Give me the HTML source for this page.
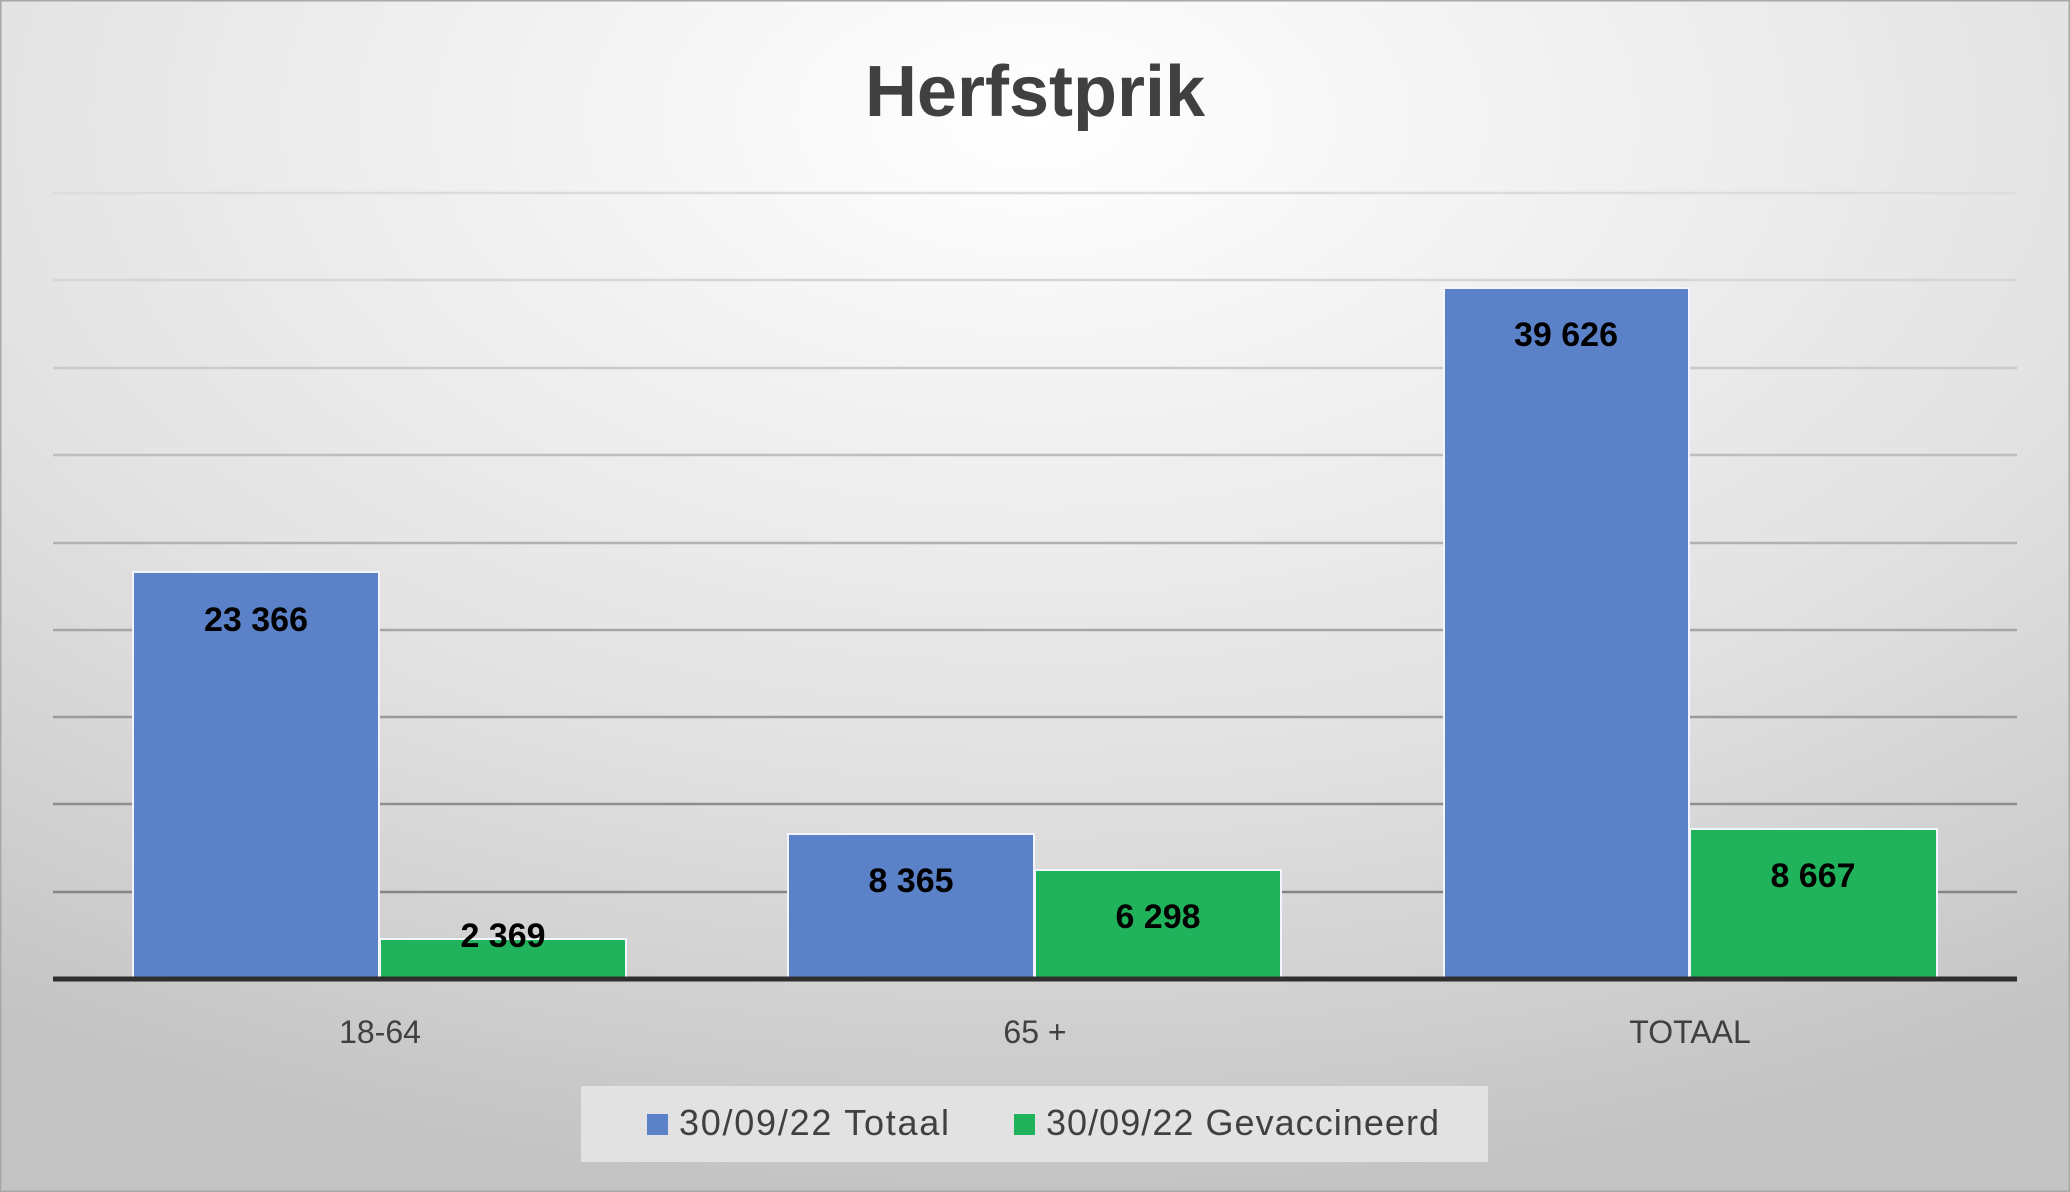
<!DOCTYPE html>
<html><head><meta charset="utf-8"><style>
html,body{margin:0;padding:0;}
body{width:2070px;height:1192px;overflow:hidden;}
svg{display:block;font-family:"Liberation Sans",sans-serif;}
</style></head><body>
<svg width="2070" height="1192" viewBox="0 0 2070 1192">
<defs>
<radialGradient id="bg" cx="50%" cy="10%" r="90%">
<stop offset="0" stop-color="#ffffff"/>
<stop offset="0.6" stop-color="#e2e2e2"/>
<stop offset="1" stop-color="#c4c4c4"/>
</radialGradient>
</defs>
<rect x="0" y="0" width="2070" height="1192" fill="url(#bg)" stroke="#a8a8a8" stroke-width="3"/>
<text x="1035" y="116" text-anchor="middle" font-size="72" font-weight="bold" fill="#404040">Herfstprik</text>
<g stroke-width="2.5">
<line x1="53" x2="2017" y1="193" y2="193" stroke="#dcdcdc"/>
<line x1="53" x2="2017" y1="280" y2="280" stroke="#d6d6d6"/>
<line x1="53" x2="2017" y1="368" y2="368" stroke="#cacaca"/>
<line x1="53" x2="2017" y1="455" y2="455" stroke="#bebebe"/>
<line x1="53" x2="2017" y1="543" y2="543" stroke="#b2b2b2"/>
<line x1="53" x2="2017" y1="630" y2="630" stroke="#a6a6a6"/>
<line x1="53" x2="2017" y1="717" y2="717" stroke="#9a9a9a"/>
<line x1="53" x2="2017" y1="804" y2="804" stroke="#8e8e8e"/>
<line x1="53" x2="2017" y1="892" y2="892" stroke="#858585"/>
</g>
<g stroke="#f2f5fb" stroke-width="2">
<rect x="133" y="572" width="246" height="406" fill="#5b82c9"/>
<rect x="380" y="939" width="246" height="39" fill="#21b35c"/>
<rect x="788" y="834" width="246" height="144" fill="#5b82c9"/>
<rect x="1035" y="870" width="246" height="108" fill="#21b35c"/>
<rect x="1444" y="288" width="245" height="690" fill="#5b82c9"/>
<rect x="1690" y="829" width="247" height="149" fill="#21b35c"/>
</g>
<line x1="53" x2="2017" y1="979" y2="979" stroke="#2f2f2f" stroke-width="5"/>
<g font-size="34" font-weight="bold" fill="#000" text-anchor="middle">
<text x="256" y="631">23 366</text>
<text x="503" y="947">2 369</text>
<text x="911" y="892">8 365</text>
<text x="1158" y="928">6 298</text>
<text x="1566" y="346">39 626</text>
<text x="1813" y="887">8 667</text>
</g>
<g font-size="32" fill="#404040" text-anchor="middle">
<text x="380" y="1043">18-64</text>
<text x="1035" y="1043">65 +</text>
<text x="1690" y="1043">TOTAAL</text>
</g>
<rect x="581" y="1086" width="907" height="76" fill="#e6e6e6" opacity="0.85"/>
<rect x="647" y="1114" width="21" height="21" fill="#5b82c9"/>
<text x="679" y="1135" font-size="36" fill="#404040" textLength="270">30/09/22 Totaal</text>
<rect x="1014" y="1114" width="21" height="21" fill="#21b35c"/>
<text x="1046" y="1135" font-size="36" fill="#404040" textLength="393">30/09/22 Gevaccineerd</text>
</svg>
</body></html>
